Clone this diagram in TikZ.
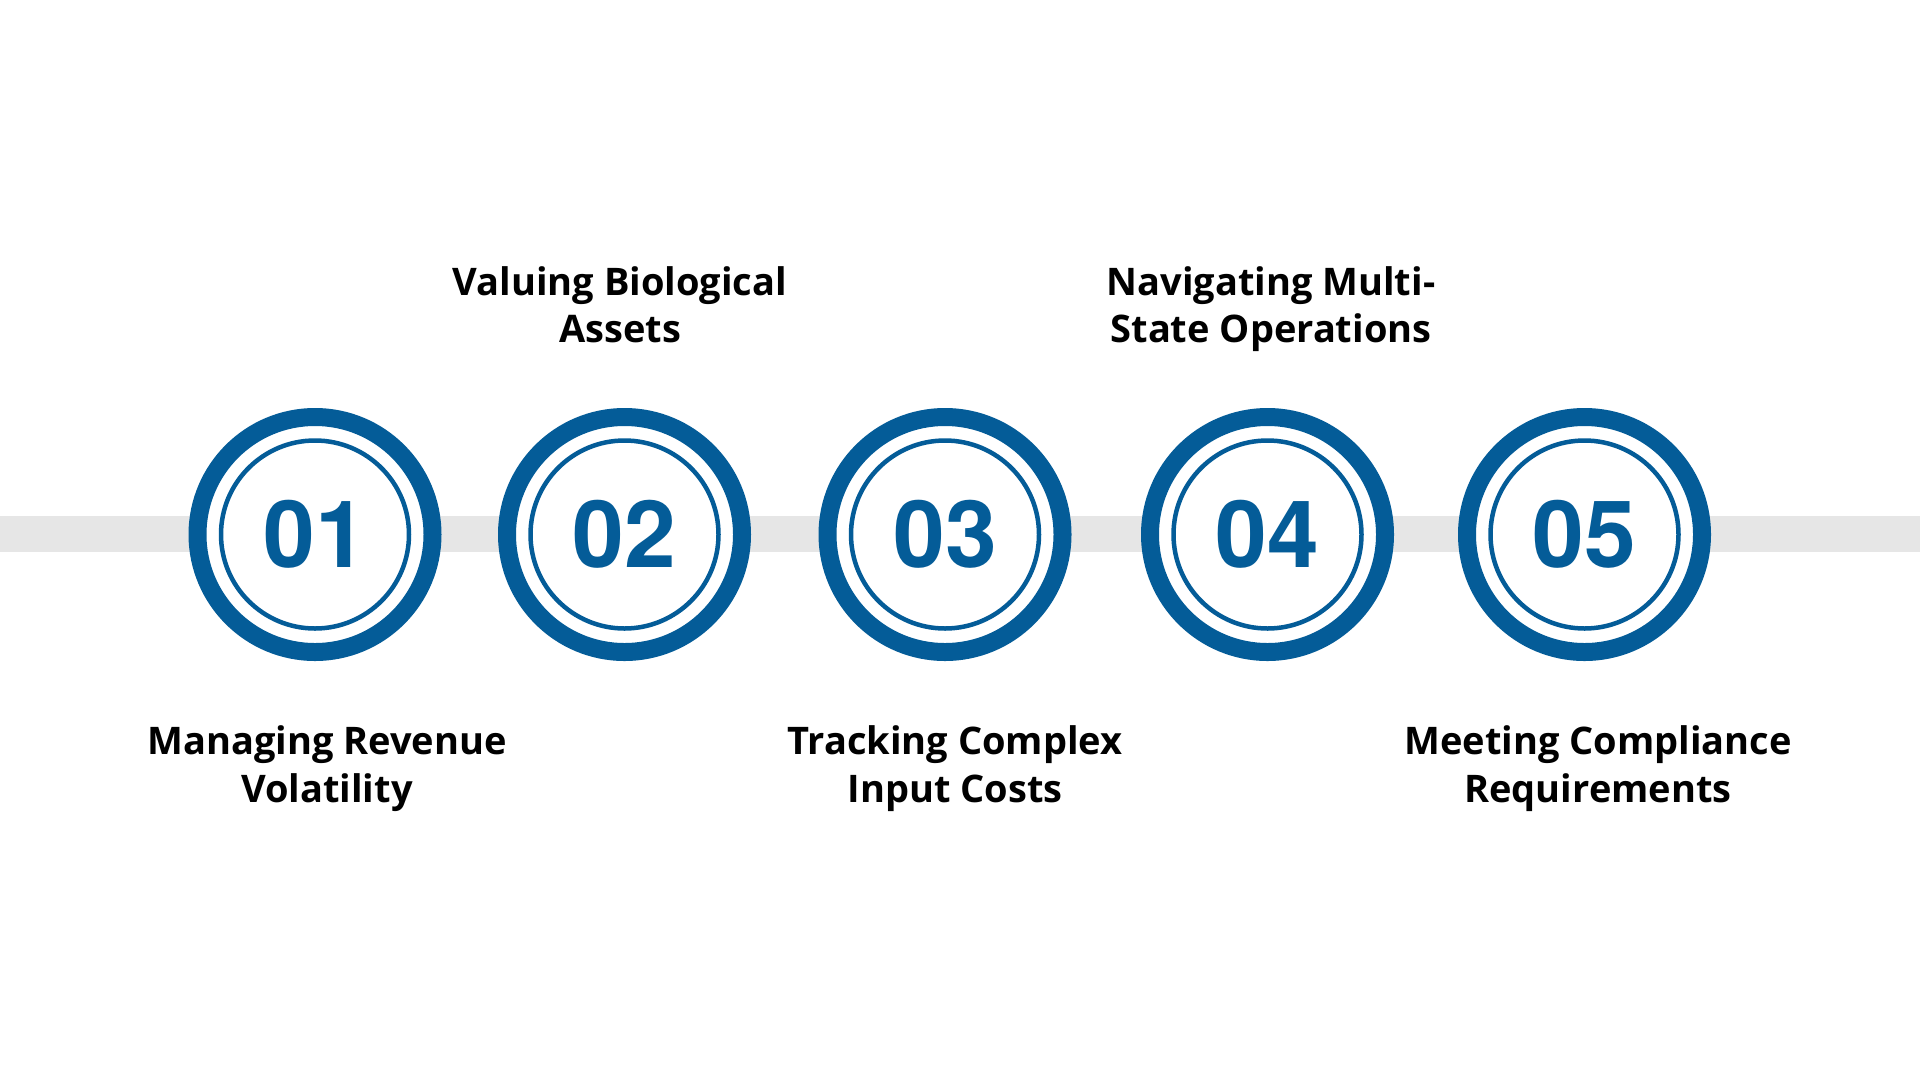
\documentclass[tikz,border=0pt]{standalone}
\usepackage{fontspec}
\setmainfont{Open Sans}
\newfontfamily\numfont{TeX Gyre Heros}
\definecolor{ringblue}{HTML}{045C98}
\definecolor{bandgray}{HTML}{E6E6E6}
\tikzset{
  ringouter/.style={circle, draw=ringblue, fill=white, line width=18pt, minimum size=235pt, inner sep=0pt},
  ringinner/.style={circle, draw=ringblue, line width=4.5pt, minimum size=188pt, inner sep=0pt},
  num/.style={inner sep=0pt, text=ringblue, font=\numfont\fontsize{93}{93}\selectfont\bfseries},
  lbl/.style={inner sep=0pt, align=center, anchor=base, text=black, font=\fontsize{38}{47.5}\selectfont\bfseries},
}
\begin{document}
\begin{tikzpicture}[x=1pt,y=-1pt]
\fill[white] (0,0) rectangle (1920,1080);
\useasboundingbox (0,0) rectangle (1920,1080);
\fill[bandgray] (0,516) rectangle (1920,552);
\foreach \i/\x/\t in {1/315/01,2/624.5/02,3/945/03,4/1267.5/04,5/1584.5/05}{
  \node[ringouter] (c\i) at (\x,534.5) {};
  \node[ringinner] (r\i) at (c\i) {};
  \node[num] (n\i) at (c\i) {\t};
}
\node[lbl] (l1) at (327,802) {Managing Revenue\\Volatility};
\node[lbl] (l2) at (620,342.5) {Valuing Biological\\Assets};
\node[lbl] (l3) at (955,802) {Tracking Complex\\Input Costs};
\node[lbl] (l4) at (1271,342.5) {Navigating Multi-\\State Operations};
\node[lbl] (l5) at (1598,802) {Meeting Compliance\\Requirements};
\end{tikzpicture}
\end{document}
